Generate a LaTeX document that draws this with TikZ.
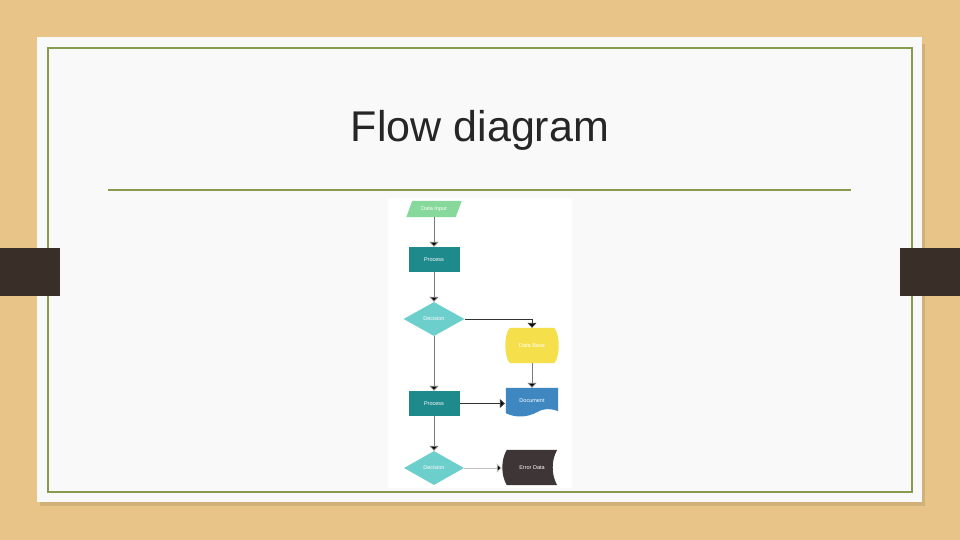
\documentclass[tikz,border=0pt]{standalone}
\usepackage{fontspec}
\setmainfont{Liberation Sans}
\usetikzlibrary{arrows.meta,shapes.geometric,calc}
\definecolor{wood}{HTML}{E9C488}
\definecolor{paper}{HTML}{F9F9F9}
\definecolor{frame}{HTML}{869B4C}
\definecolor{tab}{HTML}{3A2E28}
\definecolor{cinput}{HTML}{86D99A}
\definecolor{cproc}{HTML}{1F8A8C}
\definecolor{cdec}{HTML}{6DCFCB}
\definecolor{cdb}{HTML}{F5E04C}
\definecolor{cdoc}{HTML}{3F87C1}
\definecolor{cerr}{HTML}{3E3536}
\definecolor{cline}{HTML}{7A7A7A}
\begin{document}
\begin{tikzpicture}[x=1pt,y=-1pt,
  lbl/.style={font=\fontsize{5.5}{6}\selectfont, text=white, inner sep=0pt},
  procbox/.style={lbl, rectangle, fill=cproc, minimum width=51pt, minimum height=25pt},
  decbox/.style={lbl, diamond, fill=cdec, minimum width=61pt, minimum height=34pt},
  conn/.style={draw=cline, line width=0.9pt, -{Triangle[length=5pt,width=9pt,fill=black]}},
]
\useasboundingbox (0,0) rectangle (960,540);
% background
\fill[wood] (0,0) rectangle (960,540);
\fill[black, opacity=0.10] (40,44) rectangle (925,506);
\fill[paper] (37,37) rectangle (922,502);
\draw[frame, line width=2.2pt] (48,48) rectangle (912,492);
% tabs
\fill[tab] (0,248) rectangle (60,296);
\fill[tab] (900,248) rectangle (960,296);
% title
\node[font=\fontsize{43}{50}\selectfont, text=black!85] (title) at (480,130) {Flow diagram};
\draw[frame, line width=1.5pt] (108,190) -- (851,190);
% diagram area
\fill[white] (388,198) rectangle (572,488);

% Data Input
\node[lbl, minimum width=49pt, minimum height=16pt] (din) at (434,209) {};
\fill[cinput] ($(din.south west)+(-3,0)$) -- ($(din.north west)+(3,0)$) -- ($(din.north east)+(3,0)$) -- ($(din.south east)+(-3,0)$) -- cycle;
\node[lbl] at (din) {Data Input};

\node[procbox] (p1) at (434,259.5) {Process};
\node[decbox] (dec1) at (434,319) {Decision};
\node[procbox] (p2) at (434,403.5) {Process};
\node[decbox, minimum width=60pt] (dec2) at (434,468) {Decision};

% Data Base
\node[lbl, minimum width=44pt, minimum height=35pt] (db) at (532,345.5) {};
\fill[cdb] (db.north west) -- (db.north east) .. controls ($(db.north east)+(6,6)$) and ($(db.south east)+(6,-6)$) .. (db.south east)
  -- (db.south west) .. controls ($(db.south west)+(-6,-6)$) and ($(db.north west)+(-6,6)$) .. (db.north west) -- cycle;
\node[lbl] at (db) {Data Base};

% Document
\node[lbl, minimum width=52pt, minimum height=21pt] (doc) at (532,398.5) {};
\fill[cdoc] (doc.north west) -- (doc.north east) -- ($(doc.south east)+(0,2)$)
  .. controls ($(doc.south east)+(-8,-1)$) and ($(doc.south)+(12,-1)$) .. ($(doc.south)+(5,3)$)
  .. controls ($(doc.south)+(-4,8)$) and ($(doc.south west)+(10,9)$) .. ($(doc.south west)+(0,4)$) -- cycle;
\node[lbl] at ($(doc)+(0,2)$) {Document};

% Error Data
\node[lbl, minimum width=50pt, minimum height=35pt] (err) at (532,467.5) {};
\fill[cerr] (err.north west) -- (err.north east) .. controls ($(err.north east)+(-6,10)$) and ($(err.south east)+(-6,-10)$) .. (err.south east)
  -- (err.south west) .. controls ($(err.south west)+(-6,-10)$) and ($(err.north west)+(-6,10)$) .. (err.north west) -- cycle;
\node[lbl] at (err) {Error Data};

% connectors
\draw[conn] (din.south) -- (p1.north);
\draw[conn] (p1.south) -- (dec1.north);
\draw[conn, draw=black!80] (dec1.east) -| (db.north);
\draw[conn] (dec1.south) -- (p2.north);
\draw[conn] (db.south) -- (doc.north);
\draw[conn, draw=black!80] (p2.east) -- ($(p2.east -| doc.west)+(-1,0)$);
\draw[conn] (p2.south) -- (dec2.north);
\draw[conn, draw=black!25] (dec2.east) -- ($(dec2.east -| err.west)+(-5,0)$);
\end{tikzpicture}
\end{document}
